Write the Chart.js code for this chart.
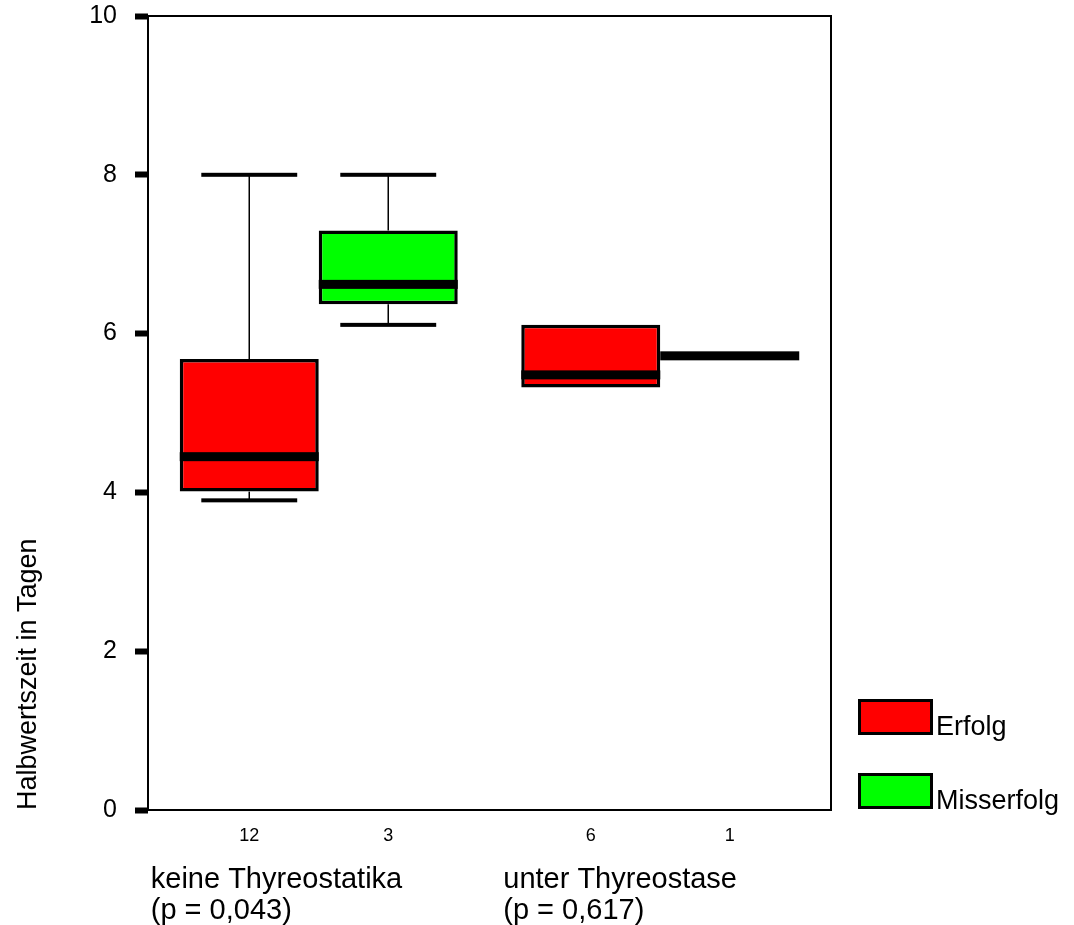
<!DOCTYPE html>
<html>
<head>
<meta charset="utf-8">
<script src="https://cdn.jsdelivr.net/npm/chart.js@4.4.1/dist/chart.umd.min.js"></script>
<style>
  html,body{margin:0;background:#fff}
  #wrap{width:1074px;height:925px;position:relative}
</style>
</head>
<body>
<div id="wrap"><canvas id="hwz"></canvas></div>
<script>
// groups on the x axis and the two outcome series
const groups = ['keine Thyreostatika', 'unter Thyreostase'];
const pLabels = ['(p = 0,043)', '(p = 0,617)'];
const seriesNames = ['Erfolg', 'Misserfolg'];
const seriesColors = ['#ff0000', '#00ff00'];

// box statistics, one entry per group
const erfolgMin = [3.9, 5.32];
const erfolgQ1  = [4.01, 5.32];
const erfolgMed = [4.45, 5.48];
const erfolgQ3  = [5.68, 6.11];
const erfolgMax = [8.0, 6.11];
const erfolgN   = [12, 6];

const missMin = [6.11, 5.72];
const missQ1  = [6.37, 5.72];
const missMed = [6.62, 5.72];
const missQ3  = [7.30, 5.72];
const missMax = [8.0, 5.72];
const missN   = [3, 1];

const yTicks = [0, 2, 4, 6, 8, 10];

const FONT = "'Liberation Sans', Arial, sans-serif";
const stats = [
  {min: erfolgMin, q1: erfolgQ1, med: erfolgMed, q3: erfolgQ3, max: erfolgMax, n: erfolgN},
  {min: missMin,   q1: missQ1,   med: missMed,   q3: missQ3,   max: missMax,   n: missN}
];

// whiskers, medians, counts, group labels, frame and legend
const boxPlot = {
  id: 'boxPlot',
  afterDatasetsDraw(chart){
    const {ctx, chartArea: a, scales: {x, y}} = chart;
    ctx.save();
    ctx.fillStyle = '#000'; ctx.strokeStyle = '#000';
    stats.forEach((s, di)=>{
      chart.getDatasetMeta(di).data.forEach((bar, i)=>{
        const {x: bx, width: bw} = bar.getProps(['x','width'], true);
        const cap = bw*0.345;
        const pMin = y.getPixelForValue(s.min[i]), pMax = y.getPixelForValue(s.max[i]);
        const pQ1 = y.getPixelForValue(s.q1[i]), pQ3 = y.getPixelForValue(s.q3[i]);
        if(s.max[i] > s.q3[i]){
          ctx.lineWidth = 1.5; ctx.beginPath(); ctx.moveTo(bx, pQ3); ctx.lineTo(bx, pMax); ctx.stroke();
          ctx.fillRect(bx-cap, pMax-2, cap*2, 4);
        }
        if(s.min[i] < s.q1[i]){
          ctx.lineWidth = 1.5; ctx.beginPath(); ctx.moveTo(bx, pQ1); ctx.lineTo(bx, pMin); ctx.stroke();
          ctx.fillRect(bx-cap, pMin-2, cap*2, 4);
        }
        const pMed = y.getPixelForValue(s.med[i]);
        ctx.fillRect(bx-bw/2, pMed-4.5, bw, 9);
        // n below the axis
        ctx.font = '18px ' + FONT; ctx.textAlign = 'center'; ctx.textBaseline = 'middle';
        ctx.fillText(String(s.n[i]), bx, a.bottom + 26);
      });
    });

    // group captions, left aligned
    const shift = [-168, -157];
    ctx.font = '29px ' + FONT; ctx.textAlign = 'left'; ctx.textBaseline = 'middle';
    groups.forEach((g, i)=>{
      const gx = x.getPixelForValue(i) + shift[i];
      ctx.fillText(g, gx, a.bottom + 70);
      ctx.fillText(pLabels[i], gx, a.bottom + 101);
    });

    // plot frame
    ctx.lineWidth = 2;
    ctx.strokeRect(a.left, a.top, a.right - a.left, a.bottom - a.top);

    // legend at the lower right
    ctx.font = '27px ' + FONT; ctx.textBaseline = 'alphabetic';
    seriesNames.forEach((name, k)=>{
      const lx = a.right + 27, ly = a.bottom - 111 + k*74;
      ctx.fillStyle = '#000'; ctx.fillRect(lx, ly, 75, 36);
      ctx.fillStyle = seriesColors[k]; ctx.fillRect(lx+3, ly+3, 69, 30);
      ctx.fillStyle = '#000'; ctx.fillText(name, lx + 78, ly + 36);
    });
    ctx.restore();
  }
};

const mkSet = (k, q1, q3)=>({
  label: seriesNames[k],
  data: groups.map((_, i)=>[q1[i], q3[i]]),
  backgroundColor: seriesColors[k],
  borderColor: '#000',
  borderWidth: c => (q1[c.dataIndex] === q3[c.dataIndex] ? 0 : 3.5),
  borderSkipped: false,
  barPercentage: 1,
  categoryPercentage: 0.814
});

new Chart(document.getElementById('hwz'), {
  type: 'bar',
  data: { labels: groups, datasets: [mkSet(0, erfolgQ1, erfolgQ3), mkSet(1, missQ1, missQ3)] },
  options: {
    responsive: true, maintainAspectRatio: false, animation: false,
    layout: { padding: { top: 0, right: 243, bottom: 115, left: 0 } },
    plugins: { legend: { display: false }, tooltip: { enabled: false } },
    scales: {
      x: { display: false, offset: true },
      y: {
        min: 0, max: 10,
        afterBuildTicks: s => { s.ticks = yTicks.map(v=>({value: v})); },
        afterFit: s => { s.width = 148; s.paddingTop = 16; s.paddingBottom = 0; },
        border: { display: false },
        grid: { drawOnChartArea: false, color: '#000', tickColor: '#000', tickWidth: 6, tickLength: 13 },
        ticks: { color: '#000', padding: 18, font: { family: FONT, size: 25 } },
        title: { display: true, text: 'Halbwertszeit in Tagen', align: 'start', color: '#000',
                 padding: { top: 12, bottom: 0 }, font: { family: FONT, size: 27 } }
      }
    }
  },
  plugins: [boxPlot]
});
</script>
</body>
</html>
